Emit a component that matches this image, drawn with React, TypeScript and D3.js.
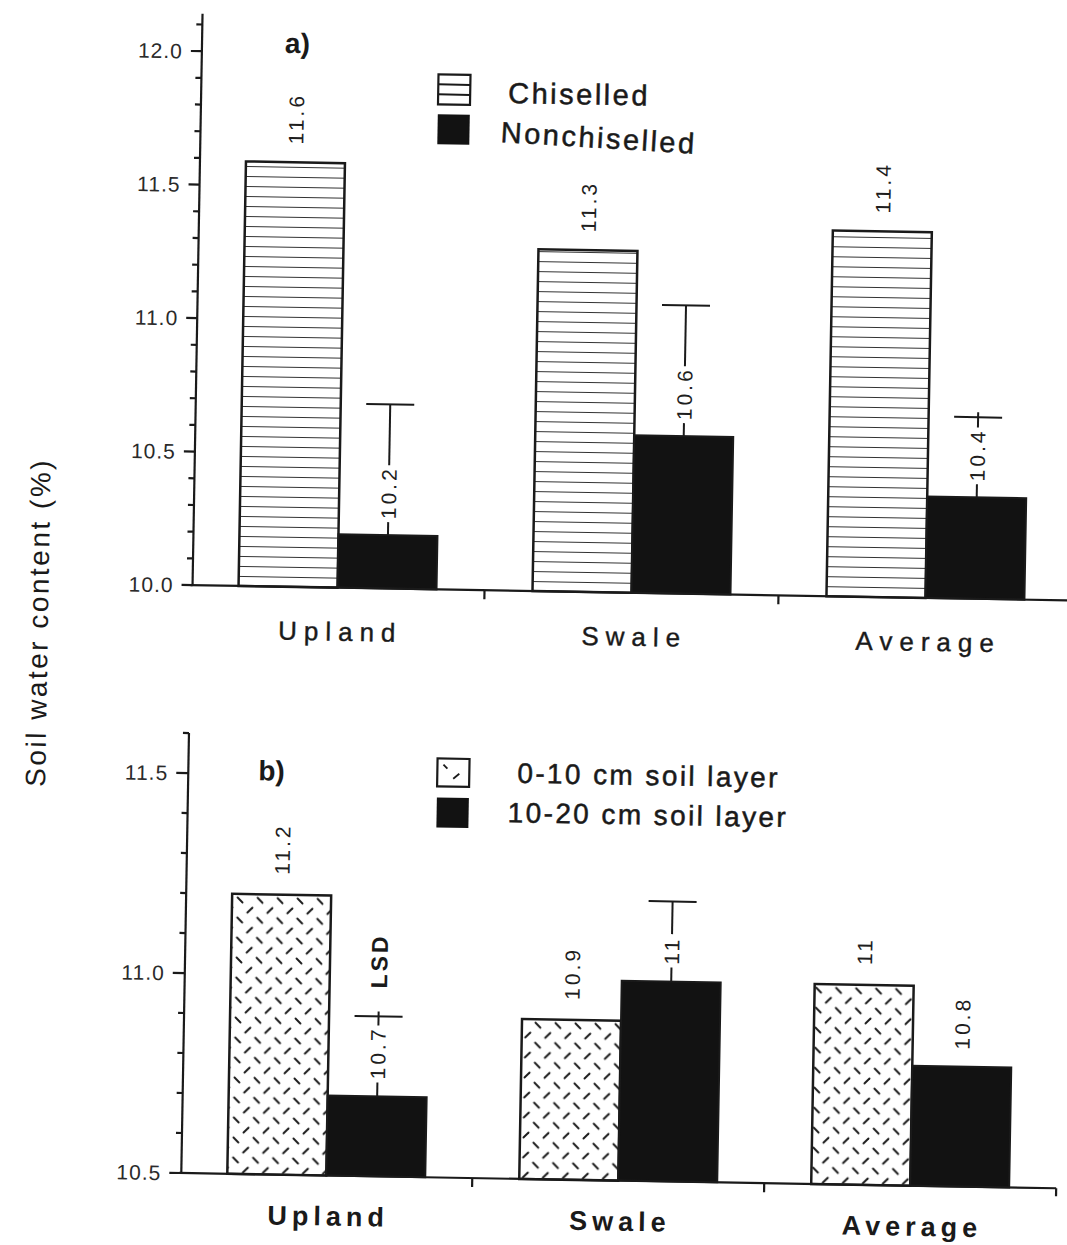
import React from 'react';
import * as d3 from 'd3';

const categories = ['Upland', 'Swale', 'Average'];

// Panel a
const chiselled = [11.59, 11.28, 11.37];
const nonchiselled = [10.2, 10.59, 10.38];
const chiselledLabels = ['11.6', '11.3', '11.4'];
const nonchiselledLabels = ['10.2', '10.6', '10.4'];
const lsdTopA = [10.69, 11.08, 10.68];
const lsdOverA = [false, false, true];
const yTicksA = [10.0, 10.5, 11.0, 11.5, 12.0];

// Panel b
const layer0to10 = [11.2, 10.9, 11.0];
const layer10to20 = [10.7, 11.0, 10.8];
const layer0to10Labels = ['11.2', '10.9', '11'];
const layer10to20Labels = ['10.7', '11', '10.8'];
const lsdTopB: (number | null)[] = [10.9, 11.2, null];
const lsdOverB = [true, false, false];
const yTicksB = [10.5, 11.0, 11.5];

const FONT = "'Liberation Sans', Arial, Helvetica, sans-serif";
const INK = '#1a1a1a';
const BW = 99;

function labelLen(text: string) {
  let l = 0;
  for (const ch of text) l += (ch === '.' ? 5.8 : 11.7) + 3;
  return l - 3;
}

function ValueLabel({ x, y, text }: { x: number; y: number; text: string }) {
  return (
    <text
      transform={`translate(${x + 7.5},${y}) rotate(-90)`}
      fontSize={21}
      letterSpacing={3}
      fill="#1e1e1e"
      fontFamily={FONT}
    >
      {text}
    </text>
  );
}

function ErrBar({
  cx,
  y0,
  y1,
  over,
  labelStart,
  label,
}: {
  cx: number;
  y0: number;
  y1: number;
  over: boolean;
  labelStart: number;
  label: string;
}) {
  const L = labelLen(label);
  const gapBottom = labelStart + 3;
  const gapTop = labelStart - L - 4;
  return (
    <g stroke={INK} strokeWidth={2}>
      <line x1={cx} x2={cx} y1={y0} y2={gapBottom} />
      {gapTop > y1 - (over ? 5 : 0) && <line x1={cx} x2={cx} y1={gapTop} y2={y1 - (over ? 5 : 0)} />}
      <line x1={cx - 24} x2={cx + 24} y1={y1} y2={y1} />
    </g>
  );
}

export default function App() {
  // ---------- Panel a scales ----------
  const yA = d3.scaleLinear().domain([10, 12]).range([591, 57]);
  const xA = d3.scaleBand<string>().domain(categories).range([190, 1072]);
  const axAX = 192;
  const minorA = d3.range(0, 22).map((i) => 10 + i * 0.1);

  // ---------- Panel b scales ----------
  const yB = d3.scaleLinear().domain([10.5, 11.5]).range([1179, 779]);
  const xB = d3.scaleBand<string>().domain(categories).range([190, 1066]);
  const axBX = 191;
  const minorB = d3.range(0, 12).map((i) => 10.5 + i * 0.1);

  return (
    <svg
      width={1067}
      height={1245}
      style={{ position: 'absolute', left: 0, top: 0, background: '#fff' }}
      fontFamily={FONT}
    >
      <defs>
        <pattern id="hlines" patternUnits="userSpaceOnUse" width={20} height={10} y={1}>
          <line x1={0} x2={20} y1={0} y2={0} stroke={INK} strokeWidth={1.8} />
        </pattern>
        <pattern id="dashes" patternUnits="userSpaceOnUse" width={20} height={20}>
          <line x1={2.5} y1={2.5} x2={7.5} y2={7.5} stroke={INK} strokeWidth={1.9} strokeLinecap="round" />
          <line x1={12.5} y1={17.5} x2={17.5} y2={12.5} stroke={INK} strokeWidth={1.9} strokeLinecap="round" />
        </pattern>
      </defs>
      <rect width={1067} height={1245} fill="#fff" />
      <g transform="rotate(1, 530, 620)">
        {/* Y title */}
        <text
          transform="translate(48,631) rotate(-90)"
          textAnchor="middle"
          fontSize={28}
          letterSpacing={2.5}
          fill={INK}
        >
          Soil water content (%)
        </text>

        {/* ================= Panel a ================= */}
        <text x={275} y={57} fontSize={28} fontWeight="bold" fill={INK}>a)</text>

        {categories.map((c, i) => {
          const cx = xA(c)! + xA.bandwidth() / 2;
          const ls = yA(nonchiselled[i]) - 16;
          return (
            <g key={'a' + c}>
              <rect
                x={cx - BW}
                y={yA(chiselled[i])}
                width={BW}
                height={yA(10) - yA(chiselled[i])}
                fill="url(#hlines)"
                stroke={INK}
                strokeWidth={2.5}
              />
              <rect
                x={cx}
                y={yA(nonchiselled[i])}
                width={BW}
                height={yA(10) - yA(nonchiselled[i])}
                fill="#121212"
                stroke={INK}
                strokeWidth={2}
              />
              <ErrBar
                cx={cx + BW / 2}
                y0={yA(nonchiselled[i])}
                y1={yA(lsdTopA[i])}
                over={lsdOverA[i]}
                labelStart={ls}
                label={nonchiselledLabels[i]}
              />
              <ValueLabel x={cx - BW / 2} y={yA(chiselled[i]) - 18} text={chiselledLabels[i]} />
              <ValueLabel x={cx + BW / 2} y={ls} text={nonchiselledLabels[i]} />
              <text
                x={cx + 3.5}
                y={644}
                textAnchor="middle"
                fontSize={26}
                letterSpacing={7}
                fill={INK}
                stroke={INK}
                strokeWidth={0.4}
              >
                {c}
              </text>
            </g>
          );
        })}

        {/* axes a */}
        <g stroke={INK} strokeWidth={2.2}>
          <line x1={axAX} x2={axAX} y1={yA(12.14)} y2={yA(10) + 1} />
          <line x1={axAX - 2} x2={1080} y1={yA(10)} y2={yA(10)} />
          {minorA.map((v, i) => (
            <line key={'ma' + i} x1={axAX - (i % 5 === 0 ? 11 : 6)} x2={axAX} y1={yA(v)} y2={yA(v)} />
          ))}
          {categories.slice(1).map((c) => (
            <line key={'ta' + c} x1={xA(c)!} x2={xA(c)!} y1={yA(10)} y2={yA(10) + 9} />
          ))}
        </g>
        {yTicksA.map((v) => (
          <text
            key={'la' + v}
            x={axAX - 19}
            y={yA(v) + 7.5}
            textAnchor="end"
            fontSize={21}
            letterSpacing={1}
            fill="#2a2a2a"
          >
            {d3.format('.1f')(v)}
          </text>
        ))}

        {/* legend a */}
        <rect x={429} y={76} width={32} height={30} fill="#fff" stroke={INK} strokeWidth={2.2} />
        <line x1={429} x2={461} y1={86} y2={86} stroke={INK} strokeWidth={2} />
        <line x1={429} x2={461} y1={96} y2={96} stroke={INK} strokeWidth={2} />
        <rect x={429} y={116} width={32} height={30} fill="#121212" />
        <text x={499} y={103.5} fontSize={29} letterSpacing={2.5} fill={INK} stroke={INK} strokeWidth={0.5}>
          Chiselled
        </text>
        <text
          x={492}
          y={142.5}
          fontSize={29}
          letterSpacing={2.5}
          fill={INK}
          stroke={INK}
          strokeWidth={0.5}
          transform="rotate(2.5, 492, 142.5)"
        >
          Nonchiselled
        </text>

        {/* ================= Panel b ================= */}
        <text x={261} y={785} fontSize={28} fontWeight="bold" fill={INK}>b)</text>

        {categories.map((c, i) => {
          const cx = xB(c)! + xB.bandwidth() / 2;
          const top = lsdTopB[i];
          const ls = yB(layer10to20[i]) - 17;
          return (
            <g key={'b' + c}>
              <rect
                x={cx - BW}
                y={yB(layer0to10[i])}
                width={BW}
                height={yB(10.5) - yB(layer0to10[i])}
                fill="#fff"
              />
              <rect
                x={cx - BW}
                y={yB(layer0to10[i])}
                width={BW}
                height={yB(10.5) - yB(layer0to10[i])}
                fill="url(#dashes)"
                stroke={INK}
                strokeWidth={2.5}
              />
              <rect
                x={cx}
                y={yB(layer10to20[i])}
                width={BW}
                height={yB(10.5) - yB(layer10to20[i])}
                fill="#121212"
                stroke={INK}
                strokeWidth={2}
              />
              {top !== null && (
                <ErrBar
                  cx={cx + BW / 2}
                  y0={yB(layer10to20[i])}
                  y1={yB(top)}
                  over={lsdOverB[i]}
                  labelStart={ls}
                  label={layer10to20Labels[i]}
                />
              )}
              <ValueLabel x={cx - BW / 2} y={yB(layer0to10[i]) - 20} text={layer0to10Labels[i]} />
              <ValueLabel x={cx + BW / 2} y={ls} text={layer10to20Labels[i]} />
              {i === 0 && top !== null && (
                <text
                  transform={`translate(${cx + BW / 2 + 8},${yB(top) - 28}) rotate(-90)`}
                  fontSize={23}
                  fontWeight="bold"
                  letterSpacing={3}
                  fill={INK}
                >
                  LSD
                </text>
              )}
              <text
                x={cx + 2.5}
                y={1229}
                textAnchor="middle"
                fontSize={27}
                fontWeight="bold"
                letterSpacing={5}
                fill={INK}
              >
                {c}
              </text>
            </g>
          );
        })}

        {/* axes b */}
        <g stroke={INK} strokeWidth={2.2}>
          <line x1={axBX} x2={axBX} y1={yB(11.6)} y2={yB(10.5) + 1} />
          <line x1={axBX - 2} x2={1066} y1={yB(10.5)} y2={yB(10.5)} />
          {minorB.map((v, i) => (
            <line key={'mb' + i} x1={axBX - (i % 5 === 0 ? 12 : 6)} x2={axBX} y1={yB(v)} y2={yB(v)} />
          ))}
          {categories.slice(1).map((c) => (
            <line key={'tb' + c} x1={xB(c)!} x2={xB(c)!} y1={yB(10.5)} y2={yB(10.5) + 9} />
          ))}
          <line x1={1066} x2={1066} y1={yB(10.5)} y2={yB(10.5) + 8} />
        </g>
        {yTicksB.map((v) => (
          <text
            key={'lb' + v}
            x={axBX - 20}
            y={yB(v) + 7.5}
            textAnchor="end"
            fontSize={21}
            letterSpacing={1}
            fill="#2a2a2a"
          >
            {d3.format('.1f')(v)}
          </text>
        ))}

        {/* legend b */}
        <rect x={440} y={760} width={32} height={28} fill="#fff" stroke={INK} strokeWidth={2.2} />
        <line x1={446} y1={766} x2={450} y2={770} stroke={INK} strokeWidth={1.8} />
        <line x1={456} y1={780} x2={462} y2={775} stroke={INK} strokeWidth={1.8} />
        <rect x={440} y={799} width={32} height={30} fill="#121212" />
        <text x={520} y={783} fontSize={28} letterSpacing={2.4} fill={INK} stroke={INK} strokeWidth={0.5}>
          0-10 cm soil layer
        </text>
        <text x={511} y={822.5} fontSize={28} letterSpacing={2.4} fill={INK} stroke={INK} strokeWidth={0.5}>
          10-20 cm soil layer
        </text>
      </g>
    </svg>
  );
}
